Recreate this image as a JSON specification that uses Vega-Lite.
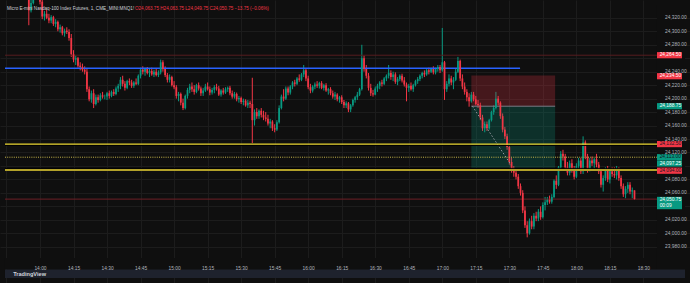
{
"$schema":"https://vega.github.io/schema/vega-lite/v6.json",
"width":690,"height":283,
"autosize":{"type":"none"},
"padding":0,
"background":"#0f0f0f",
"config":{"view":{"stroke":null,"fill":"#0f0f0f"},"font":"Liberation Sans"},
"resolve":{"axis":{"x":"independent","y":"independent"}},
"data":{"format":{"parse":{"t":"utc:'%H:%M'"}},"values":[
{"t":"13:55","o":24350,"h":24356,"l":24309,"c":24331},
{"t":"13:56","o":24331,"h":24352,"l":24328,"c":24342},
{"t":"13:57","o":24342,"h":24356,"l":24340,"c":24352},
{"t":"13:58","o":24352,"h":24362,"l":24348,"c":24358},
{"t":"13:59","o":24358,"h":24364,"l":24350,"c":24354},
{"t":"14:00","o":24354,"h":24358,"l":24340,"c":24344},
{"t":"14:01","o":24344,"h":24348,"l":24318,"c":24322},
{"t":"14:02","o":24322,"h":24330,"l":24316,"c":24326},
{"t":"14:03","o":24326,"h":24332,"l":24318,"c":24320},
{"t":"14:04","o":24320,"h":24326,"l":24312,"c":24316},
{"t":"14:05","o":24316,"h":24324,"l":24312,"c":24321},
{"t":"14:06","o":24321,"h":24323,"l":24308,"c":24311},
{"t":"14:07","o":24311,"h":24318,"l":24306,"c":24314},
{"t":"14:08","o":24314,"h":24316,"l":24300,"c":24303},
{"t":"14:09","o":24303,"h":24310,"l":24298,"c":24306},
{"t":"14:10","o":24306,"h":24308,"l":24294,"c":24297},
{"t":"14:11","o":24297,"h":24304,"l":24292,"c":24301},
{"t":"14:12","o":24301,"h":24306,"l":24296,"c":24299},
{"t":"14:13","o":24299,"h":24303,"l":24286,"c":24290},
{"t":"14:14","o":24290,"h":24296,"l":24262,"c":24266},
{"t":"14:15","o":24266,"h":24272,"l":24254,"c":24258},
{"t":"14:16","o":24258,"h":24264,"l":24250,"c":24260},
{"t":"14:17","o":24260,"h":24262,"l":24246,"c":24249},
{"t":"14:18","o":24249,"h":24254,"l":24242,"c":24247},
{"t":"14:19","o":24247,"h":24252,"l":24240,"c":24243},
{"t":"14:20","o":24243,"h":24248,"l":24236,"c":24240},
{"t":"14:21","o":24240,"h":24244,"l":24210,"c":24214},
{"t":"14:22","o":24214,"h":24218,"l":24196,"c":24199},
{"t":"14:23","o":24199,"h":24212,"l":24194,"c":24208},
{"t":"14:24","o":24208,"h":24214,"l":24186,"c":24192},
{"t":"14:25","o":24192,"h":24206,"l":24190,"c":24202},
{"t":"14:26","o":24202,"h":24206,"l":24194,"c":24198},
{"t":"14:27","o":24198,"h":24208,"l":24196,"c":24205},
{"t":"14:28","o":24205,"h":24210,"l":24200,"c":24203},
{"t":"14:29","o":24203,"h":24206,"l":24199,"c":24203},
{"t":"14:30","o":24203,"h":24210,"l":24198,"c":24208},
{"t":"14:31","o":24208,"h":24212,"l":24200,"c":24204},
{"t":"14:32","o":24204,"h":24212,"l":24202,"c":24210},
{"t":"14:33","o":24210,"h":24214,"l":24204,"c":24207},
{"t":"14:34","o":24207,"h":24218,"l":24205,"c":24215},
{"t":"14:35","o":24215,"h":24222,"l":24210,"c":24219},
{"t":"14:36","o":24219,"h":24232,"l":24214,"c":24228},
{"t":"14:37","o":24228,"h":24234,"l":24218,"c":24222},
{"t":"14:38","o":24222,"h":24226,"l":24212,"c":24216},
{"t":"14:39","o":24216,"h":24228,"l":24214,"c":24226},
{"t":"14:40","o":24226,"h":24230,"l":24220,"c":24224},
{"t":"14:41","o":24224,"h":24228,"l":24216,"c":24219},
{"t":"14:42","o":24219,"h":24226,"l":24216,"c":24224},
{"t":"14:43","o":24224,"h":24230,"l":24220,"c":24222},
{"t":"14:44","o":24222,"h":24236,"l":24220,"c":24234},
{"t":"14:45","o":24234,"h":24246,"l":24230,"c":24243},
{"t":"14:46","o":24243,"h":24248,"l":24236,"c":24240},
{"t":"14:47","o":24240,"h":24246,"l":24234,"c":24244},
{"t":"14:48","o":24244,"h":24247,"l":24236,"c":24238},
{"t":"14:49","o":24238,"h":24244,"l":24232,"c":24241},
{"t":"14:50","o":24241,"h":24246,"l":24234,"c":24236},
{"t":"14:51","o":24236,"h":24243,"l":24232,"c":24240},
{"t":"14:52","o":24240,"h":24244,"l":24233,"c":24235},
{"t":"14:53","o":24235,"h":24242,"l":24232,"c":24239},
{"t":"14:54","o":24239,"h":24258,"l":24236,"c":24254},
{"t":"14:55","o":24254,"h":24257,"l":24240,"c":24244},
{"t":"14:56","o":24244,"h":24248,"l":24232,"c":24235},
{"t":"14:57","o":24235,"h":24238,"l":24224,"c":24228},
{"t":"14:58","o":24228,"h":24236,"l":24224,"c":24232},
{"t":"14:59","o":24232,"h":24234,"l":24218,"c":24220},
{"t":"15:00","o":24220,"h":24226,"l":24214,"c":24217},
{"t":"15:01","o":24217,"h":24220,"l":24200,"c":24204},
{"t":"15:02","o":24204,"h":24210,"l":24196,"c":24207},
{"t":"15:03","o":24207,"h":24209,"l":24190,"c":24194},
{"t":"15:04","o":24194,"h":24200,"l":24183,"c":24186},
{"t":"15:05","o":24186,"h":24206,"l":24184,"c":24204},
{"t":"15:06","o":24204,"h":24216,"l":24200,"c":24213},
{"t":"15:07","o":24213,"h":24222,"l":24208,"c":24218},
{"t":"15:08","o":24218,"h":24224,"l":24210,"c":24214},
{"t":"15:09","o":24214,"h":24220,"l":24206,"c":24210},
{"t":"15:10","o":24210,"h":24222,"l":24208,"c":24220},
{"t":"15:11","o":24220,"h":24224,"l":24212,"c":24215},
{"t":"15:12","o":24215,"h":24218,"l":24204,"c":24208},
{"t":"15:13","o":24208,"h":24216,"l":24204,"c":24212},
{"t":"15:14","o":24212,"h":24222,"l":24210,"c":24218},
{"t":"15:15","o":24218,"h":24224,"l":24212,"c":24214},
{"t":"15:16","o":24214,"h":24218,"l":24205,"c":24209},
{"t":"15:17","o":24209,"h":24216,"l":24206,"c":24213},
{"t":"15:18","o":24213,"h":24220,"l":24208,"c":24217},
{"t":"15:19","o":24217,"h":24222,"l":24212,"c":24215},
{"t":"15:20","o":24215,"h":24219,"l":24204,"c":24206},
{"t":"15:21","o":24206,"h":24214,"l":24203,"c":24212},
{"t":"15:22","o":24212,"h":24216,"l":24206,"c":24209},
{"t":"15:23","o":24209,"h":24217,"l":24207,"c":24214},
{"t":"15:24","o":24214,"h":24218,"l":24210,"c":24216},
{"t":"15:25","o":24216,"h":24219,"l":24205,"c":24208},
{"t":"15:26","o":24208,"h":24212,"l":24200,"c":24203},
{"t":"15:27","o":24203,"h":24210,"l":24200,"c":24207},
{"t":"15:28","o":24207,"h":24209,"l":24196,"c":24199},
{"t":"15:29","o":24199,"h":24204,"l":24194,"c":24201},
{"t":"15:30","o":24201,"h":24203,"l":24192,"c":24195},
{"t":"15:31","o":24195,"h":24200,"l":24190,"c":24197},
{"t":"15:32","o":24197,"h":24199,"l":24188,"c":24190},
{"t":"15:33","o":24190,"h":24198,"l":24186,"c":24194},
{"t":"15:34","o":24194,"h":24197,"l":24186,"c":24192},
{"t":"15:35","o":24192,"h":24231,"l":24134,"c":24168},
{"t":"15:36","o":24168,"h":24184,"l":24160,"c":24180},
{"t":"15:37","o":24180,"h":24186,"l":24170,"c":24174},
{"t":"15:38","o":24174,"h":24184,"l":24170,"c":24182},
{"t":"15:39","o":24182,"h":24186,"l":24172,"c":24176},
{"t":"15:40","o":24176,"h":24182,"l":24168,"c":24172},
{"t":"15:41","o":24172,"h":24180,"l":24166,"c":24170},
{"t":"15:42","o":24170,"h":24176,"l":24160,"c":24163},
{"t":"15:43","o":24163,"h":24170,"l":24156,"c":24166},
{"t":"15:44","o":24166,"h":24168,"l":24152,"c":24156},
{"t":"15:45","o":24156,"h":24162,"l":24150,"c":24154},
{"t":"15:46","o":24154,"h":24168,"l":24152,"c":24165},
{"t":"15:47","o":24165,"h":24190,"l":24163,"c":24186},
{"t":"15:48","o":24186,"h":24206,"l":24184,"c":24203},
{"t":"15:49","o":24203,"h":24214,"l":24196,"c":24200},
{"t":"15:50","o":24200,"h":24218,"l":24198,"c":24215},
{"t":"15:51","o":24215,"h":24218,"l":24205,"c":24209},
{"t":"15:52","o":24209,"h":24220,"l":24206,"c":24218},
{"t":"15:53","o":24218,"h":24226,"l":24214,"c":24224},
{"t":"15:54","o":24224,"h":24228,"l":24218,"c":24222},
{"t":"15:55","o":24222,"h":24232,"l":24220,"c":24230},
{"t":"15:56","o":24230,"h":24236,"l":24225,"c":24228},
{"t":"15:57","o":24228,"h":24238,"l":24226,"c":24236},
{"t":"15:58","o":24236,"h":24250,"l":24232,"c":24242},
{"t":"15:59","o":24242,"h":24244,"l":24226,"c":24230},
{"t":"16:00","o":24230,"h":24234,"l":24214,"c":24217},
{"t":"16:01","o":24217,"h":24222,"l":24208,"c":24212},
{"t":"16:02","o":24212,"h":24220,"l":24209,"c":24218},
{"t":"16:03","o":24218,"h":24224,"l":24214,"c":24221},
{"t":"16:04","o":24221,"h":24226,"l":24216,"c":24219},
{"t":"16:05","o":24219,"h":24225,"l":24215,"c":24223},
{"t":"16:06","o":24223,"h":24226,"l":24214,"c":24216},
{"t":"16:07","o":24216,"h":24222,"l":24212,"c":24220},
{"t":"16:08","o":24220,"h":24223,"l":24210,"c":24212},
{"t":"16:09","o":24212,"h":24216,"l":24206,"c":24214},
{"t":"16:10","o":24214,"h":24217,"l":24205,"c":24208},
{"t":"16:11","o":24208,"h":24212,"l":24200,"c":24203},
{"t":"16:12","o":24203,"h":24210,"l":24198,"c":24206},
{"t":"16:13","o":24206,"h":24208,"l":24196,"c":24199},
{"t":"16:14","o":24199,"h":24204,"l":24194,"c":24202},
{"t":"16:15","o":24202,"h":24205,"l":24192,"c":24195},
{"t":"16:16","o":24195,"h":24198,"l":24186,"c":24190},
{"t":"16:17","o":24190,"h":24196,"l":24186,"c":24193},
{"t":"16:18","o":24193,"h":24195,"l":24180,"c":24184},
{"t":"16:19","o":24184,"h":24192,"l":24180,"c":24190},
{"t":"16:20","o":24190,"h":24200,"l":24188,"c":24198},
{"t":"16:21","o":24198,"h":24204,"l":24194,"c":24202},
{"t":"16:22","o":24202,"h":24210,"l":24198,"c":24206},
{"t":"16:23","o":24206,"h":24216,"l":24204,"c":24214},
{"t":"16:24","o":24214,"h":24280,"l":24212,"c":24260},
{"t":"16:25","o":24260,"h":24264,"l":24240,"c":24244},
{"t":"16:26","o":24244,"h":24250,"l":24230,"c":24234},
{"t":"16:27","o":24234,"h":24238,"l":24212,"c":24216},
{"t":"16:28","o":24216,"h":24222,"l":24204,"c":24208},
{"t":"16:29","o":24208,"h":24213,"l":24203,"c":24206},
{"t":"16:30","o":24206,"h":24218,"l":24205,"c":24215},
{"t":"16:31","o":24215,"h":24222,"l":24210,"c":24219},
{"t":"16:32","o":24219,"h":24226,"l":24214,"c":24224},
{"t":"16:33","o":24224,"h":24228,"l":24218,"c":24222},
{"t":"16:34","o":24222,"h":24232,"l":24220,"c":24230},
{"t":"16:35","o":24230,"h":24236,"l":24226,"c":24234},
{"t":"16:36","o":24234,"h":24250,"l":24230,"c":24238},
{"t":"16:37","o":24238,"h":24242,"l":24228,"c":24232},
{"t":"16:38","o":24232,"h":24240,"l":24226,"c":24236},
{"t":"16:39","o":24236,"h":24239,"l":24222,"c":24225},
{"t":"16:40","o":24225,"h":24232,"l":24220,"c":24229},
{"t":"16:41","o":24229,"h":24236,"l":24226,"c":24234},
{"t":"16:42","o":24234,"h":24237,"l":24224,"c":24227},
{"t":"16:43","o":24227,"h":24232,"l":24218,"c":24221},
{"t":"16:44","o":24221,"h":24224,"l":24196,"c":24216},
{"t":"16:45","o":24216,"h":24222,"l":24210,"c":24219},
{"t":"16:46","o":24219,"h":24224,"l":24212,"c":24214},
{"t":"16:47","o":24214,"h":24222,"l":24210,"c":24220},
{"t":"16:48","o":24220,"h":24228,"l":24218,"c":24226},
{"t":"16:49","o":24226,"h":24232,"l":24222,"c":24229},
{"t":"16:50","o":24229,"h":24236,"l":24226,"c":24234},
{"t":"16:51","o":24234,"h":24240,"l":24230,"c":24238},
{"t":"16:52","o":24238,"h":24242,"l":24232,"c":24236},
{"t":"16:53","o":24236,"h":24244,"l":24234,"c":24242},
{"t":"16:54","o":24242,"h":24246,"l":24236,"c":24240},
{"t":"16:55","o":24240,"h":24246,"l":24238,"c":24244},
{"t":"16:56","o":24244,"h":24248,"l":24236,"c":24239},
{"t":"16:57","o":24239,"h":24246,"l":24236,"c":24244},
{"t":"16:58","o":24244,"h":24250,"l":24240,"c":24247},
{"t":"16:59","o":24247,"h":24250,"l":24238,"c":24242},
{"t":"17:00","o":24242,"h":24305,"l":24240,"c":24254},
{"t":"17:01","o":24254,"h":24256,"l":24198,"c":24214},
{"t":"17:02","o":24214,"h":24226,"l":24210,"c":24222},
{"t":"17:03","o":24222,"h":24236,"l":24218,"c":24230},
{"t":"17:04","o":24230,"h":24234,"l":24220,"c":24224},
{"t":"17:05","o":24224,"h":24232,"l":24214,"c":24228},
{"t":"17:06","o":24228,"h":24244,"l":24226,"c":24240},
{"t":"17:07","o":24240,"h":24262,"l":24238,"c":24256},
{"t":"17:08","o":24256,"h":24258,"l":24226,"c":24230},
{"t":"17:09","o":24230,"h":24236,"l":24214,"c":24218},
{"t":"17:10","o":24218,"h":24224,"l":24206,"c":24210},
{"t":"17:11","o":24210,"h":24214,"l":24196,"c":24202},
{"t":"17:12","o":24202,"h":24208,"l":24188,"c":24196},
{"t":"17:13","o":24196,"h":24210,"l":24194,"c":24206},
{"t":"17:14","o":24206,"h":24210,"l":24196,"c":24199},
{"t":"17:15","o":24199,"h":24204,"l":24190,"c":24192},
{"t":"17:16","o":24192,"h":24198,"l":24186,"c":24190},
{"t":"17:17","o":24190,"h":24194,"l":24168,"c":24172},
{"t":"17:18","o":24172,"h":24176,"l":24152,"c":24156},
{"t":"17:19","o":24156,"h":24166,"l":24150,"c":24162},
{"t":"17:20","o":24162,"h":24166,"l":24152,"c":24156},
{"t":"17:21","o":24156,"h":24170,"l":24154,"c":24168},
{"t":"17:22","o":24168,"h":24182,"l":24166,"c":24180},
{"t":"17:23","o":24180,"h":24190,"l":24176,"c":24186},
{"t":"17:24","o":24186,"h":24210,"l":24184,"c":24200},
{"t":"17:25","o":24200,"h":24204,"l":24190,"c":24194},
{"t":"17:26","o":24194,"h":24196,"l":24170,"c":24174},
{"t":"17:27","o":24174,"h":24178,"l":24150,"c":24154},
{"t":"17:28","o":24154,"h":24158,"l":24140,"c":24144},
{"t":"17:29","o":24144,"h":24148,"l":24124,"c":24128},
{"t":"17:30","o":24128,"h":24132,"l":24102,"c":24106},
{"t":"17:31","o":24106,"h":24112,"l":24090,"c":24094},
{"t":"17:32","o":24094,"h":24100,"l":24084,"c":24090},
{"t":"17:33","o":24090,"h":24094,"l":24080,"c":24084},
{"t":"17:34","o":24084,"h":24088,"l":24066,"c":24070},
{"t":"17:35","o":24070,"h":24074,"l":24056,"c":24060},
{"t":"17:36","o":24060,"h":24064,"l":24030,"c":24034},
{"t":"17:37","o":24034,"h":24040,"l":24008,"c":24012},
{"t":"17:38","o":24012,"h":24018,"l":23994,"c":24000},
{"t":"17:39","o":24000,"h":24022,"l":23998,"c":24018},
{"t":"17:40","o":24018,"h":24026,"l":24006,"c":24010},
{"t":"17:41","o":24010,"h":24030,"l":24006,"c":24026},
{"t":"17:42","o":24026,"h":24032,"l":24018,"c":24022},
{"t":"17:43","o":24022,"h":24036,"l":24018,"c":24032},
{"t":"17:44","o":24032,"h":24040,"l":24020,"c":24024},
{"t":"17:45","o":24024,"h":24046,"l":24022,"c":24042},
{"t":"17:46","o":24042,"h":24054,"l":24034,"c":24046},
{"t":"17:47","o":24046,"h":24054,"l":24042,"c":24050},
{"t":"17:48","o":24050,"h":24056,"l":24044,"c":24047},
{"t":"17:49","o":24047,"h":24058,"l":24044,"c":24054},
{"t":"17:50","o":24054,"h":24080,"l":24052,"c":24078},
{"t":"17:51","o":24078,"h":24086,"l":24066,"c":24072},
{"t":"17:52","o":24072,"h":24100,"l":24070,"c":24098},
{"t":"17:53","o":24098,"h":24122,"l":24096,"c":24118},
{"t":"17:54","o":24118,"h":24124,"l":24108,"c":24114},
{"t":"17:55","o":24114,"h":24118,"l":24094,"c":24098},
{"t":"17:56","o":24098,"h":24106,"l":24086,"c":24090},
{"t":"17:57","o":24090,"h":24108,"l":24086,"c":24104},
{"t":"17:58","o":24104,"h":24110,"l":24090,"c":24094},
{"t":"17:59","o":24094,"h":24100,"l":24080,"c":24084},
{"t":"18:00","o":24084,"h":24104,"l":24082,"c":24100},
{"t":"18:01","o":24100,"h":24112,"l":24096,"c":24108},
{"t":"18:02","o":24108,"h":24112,"l":24088,"c":24092},
{"t":"18:03","o":24092,"h":24144,"l":24088,"c":24135},
{"t":"18:04","o":24135,"h":24138,"l":24110,"c":24114},
{"t":"18:05","o":24114,"h":24118,"l":24090,"c":24096},
{"t":"18:06","o":24096,"h":24112,"l":24092,"c":24108},
{"t":"18:07","o":24108,"h":24114,"l":24100,"c":24104},
{"t":"18:08","o":24104,"h":24112,"l":24096,"c":24110},
{"t":"18:09","o":24110,"h":24118,"l":24098,"c":24102},
{"t":"18:10","o":24102,"h":24106,"l":24088,"c":24092},
{"t":"18:11","o":24092,"h":24096,"l":24068,"c":24072},
{"t":"18:12","o":24072,"h":24086,"l":24062,"c":24082},
{"t":"18:13","o":24082,"h":24098,"l":24078,"c":24094},
{"t":"18:14","o":24094,"h":24100,"l":24076,"c":24080},
{"t":"18:15","o":24080,"h":24096,"l":24074,"c":24092},
{"t":"18:16","o":24092,"h":24098,"l":24084,"c":24088},
{"t":"18:17","o":24088,"h":24098,"l":24082,"c":24086},
{"t":"18:18","o":24086,"h":24100,"l":24080,"c":24096},
{"t":"18:19","o":24096,"h":24098,"l":24078,"c":24082},
{"t":"18:20","o":24082,"h":24086,"l":24066,"c":24070},
{"t":"18:21","o":24070,"h":24074,"l":24054,"c":24058},
{"t":"18:22","o":24058,"h":24070,"l":24052,"c":24066},
{"t":"18:23","o":24066,"h":24076,"l":24060,"c":24072},
{"t":"18:24","o":24072,"h":24076,"l":24058,"c":24062},
{"t":"18:25","o":24062,"h":24068,"l":24052,"c":24064},
{"t":"18:26","o":24063.75,"h":24063.75,"l":24049.75,"c":24050.75}
]},
"layer":[
{"mark":{"type":"rule","clip":true,"strokeWidth":1},
 "encoding":{
  "x":{"field":"t","type":"temporal","scale":{"type":"utc","domain":[{"year":1900,"month":1,"date":1,"hours":13,"minutes":44,"seconds":20,"milliseconds":700,"utc":true},{"year":1900,"month":1,"date":1,"hours":18,"minutes":48,"seconds":36,"utc":true}],"nice":false},
   "axis":{"title":null,"orient":"bottom","labels":false,"ticks":false,"domain":false,"grid":true,"gridColor":"#1c1c1c","minExtent":0,"maxExtent":0,
    "values":[{"year":1900,"month":1,"date":1,"hours":13,"minutes":45,"utc":true},{"year":1900,"month":1,"date":1,"hours":14,"minutes":0,"utc":true},{"year":1900,"month":1,"date":1,"hours":14,"minutes":15,"utc":true},{"year":1900,"month":1,"date":1,"hours":14,"minutes":30,"utc":true},{"year":1900,"month":1,"date":1,"hours":14,"minutes":45,"utc":true},{"year":1900,"month":1,"date":1,"hours":15,"minutes":0,"utc":true},{"year":1900,"month":1,"date":1,"hours":15,"minutes":15,"utc":true},{"year":1900,"month":1,"date":1,"hours":15,"minutes":30,"utc":true},{"year":1900,"month":1,"date":1,"hours":15,"minutes":45,"utc":true},{"year":1900,"month":1,"date":1,"hours":16,"minutes":0,"utc":true},{"year":1900,"month":1,"date":1,"hours":16,"minutes":15,"utc":true},{"year":1900,"month":1,"date":1,"hours":16,"minutes":30,"utc":true},{"year":1900,"month":1,"date":1,"hours":16,"minutes":45,"utc":true},{"year":1900,"month":1,"date":1,"hours":17,"minutes":0,"utc":true},{"year":1900,"month":1,"date":1,"hours":17,"minutes":15,"utc":true},{"year":1900,"month":1,"date":1,"hours":17,"minutes":30,"utc":true},{"year":1900,"month":1,"date":1,"hours":17,"minutes":45,"utc":true},{"year":1900,"month":1,"date":1,"hours":18,"minutes":0,"utc":true},{"year":1900,"month":1,"date":1,"hours":18,"minutes":15,"utc":true},{"year":1900,"month":1,"date":1,"hours":18,"minutes":30,"utc":true}]}},
  "y":{"field":"l","type":"quantitative","scale":{"domain":[23933.6,24339.07],"nice":false,"zero":false},
   "axis":{"title":null,"orient":"right","labels":false,"ticks":false,"domain":false,"grid":true,"gridColor":"#1c1c1c","minExtent":0,"maxExtent":0,
    "values":[23980,24000,24020,24040,24060,24080,24100,24120,24140,24160,24180,24200,24220,24240,24260,24280,24300,24320]}},
  "y2":{"field":"h"},
  "color":{"condition":{"test":"datum.c >= datum.o","value":"#089981"},"value":"#f23645"}}},
{"data":{"values":[{"from":"17:13","to":"17:50:30","top":24234.5,"bottom":24188.75,"k":"stop"},{"from":"17:13","to":"17:50:30","top":24188.75,"bottom":24097.25,"k":"target"}],"format":{"parse":{"from":"utc:'%H:%M'","to":"utc:'%H:%M:%S'"}}},
 "mark":{"type":"rect","opacity":0.24},
 "encoding":{
  "x":{"field":"from","type":"temporal","axis":null},
  "x2":{"field":"to"},
  "y":{"field":"top","type":"quantitative","axis":null},
  "y2":{"field":"bottom"},
  "color":{"field":"k","type":"nominal","scale":{"domain":["stop","target"],"range":["#f23645","#089981"]},"legend":null}}},
{"data":{"values":[{"a":"entry"}]},
 "mark":{"type":"rule","color":"#787b86","strokeWidth":1},
 "encoding":{
  "x":{"datum":{"year":1900,"month":1,"date":1,"hours":17,"minutes":13,"utc":true},"type":"temporal","axis":null},
  "x2":{"datum":{"year":1900,"month":1,"date":1,"hours":17,"minutes":50,"seconds":30,"utc":true}},
  "y":{"datum":24188.75,"type":"quantitative","axis":null}}},
{"data":{"values":[{"a":"path"}]},
 "mark":{"type":"rule","color":"#9598a1","strokeWidth":1,"strokeDash":[1.5,2]},
 "encoding":{
  "x":{"datum":{"year":1900,"month":1,"date":1,"hours":17,"minutes":13,"seconds":30,"utc":true},"type":"temporal","axis":null},
  "x2":{"datum":{"year":1900,"month":1,"date":1,"hours":17,"minutes":31,"seconds":36,"utc":true}},
  "y":{"datum":24188.75,"type":"quantitative","axis":null},
  "y2":{"datum":24097.25}}},
{"data":{"values":[{"p":24264.5,"k":"alert"},{"p":24050.75,"k":"last"}]},
 "mark":{"type":"rule","strokeWidth":1},
 "encoding":{
  "x":{"datum":{"year":1900,"month":1,"date":1,"hours":13,"minutes":44,"seconds":20,"milliseconds":700,"utc":true},"type":"temporal","axis":null},
  "x2":{"datum":{"year":1900,"month":1,"date":1,"hours":18,"minutes":36,"seconds":4,"utc":true}},
  "y":{"field":"p","type":"quantitative","axis":null},
  "color":{"condition":{"test":"datum.k == 'alert'","value":"#561b1f"},"value":"#6e2027"}}},
{"data":{"values":[{"a":"blue"}]},
 "mark":{"type":"rule","color":"#2962ff","strokeWidth":1.5},
 "encoding":{
  "x":{"datum":{"year":1900,"month":1,"date":1,"hours":13,"minutes":44,"seconds":20,"milliseconds":700,"utc":true},"type":"temporal","axis":null},
  "x2":{"datum":{"year":1900,"month":1,"date":1,"hours":17,"minutes":34,"seconds":48,"utc":true}},
  "y":{"datum":24245,"type":"quantitative","axis":null}}},
{"mark":{"type":"bar","clip":true,"width":1.75},
 "encoding":{
  "x":{"field":"t","type":"temporal",
   "axis":{"title":null,"orient":"bottom","offset":-20.7,"grid":false,"ticks":false,"domain":false,"format":"%H:%M","labelColor":"#b2b5be","labelFontSize":4.85,"labelPadding":3,"labelFlush":false,"labelOverlap":false,"zindex":1,
    "values":[{"year":1900,"month":1,"date":1,"hours":14,"minutes":0,"utc":true},{"year":1900,"month":1,"date":1,"hours":14,"minutes":15,"utc":true},{"year":1900,"month":1,"date":1,"hours":14,"minutes":30,"utc":true},{"year":1900,"month":1,"date":1,"hours":14,"minutes":45,"utc":true},{"year":1900,"month":1,"date":1,"hours":15,"minutes":0,"utc":true},{"year":1900,"month":1,"date":1,"hours":15,"minutes":15,"utc":true},{"year":1900,"month":1,"date":1,"hours":15,"minutes":30,"utc":true},{"year":1900,"month":1,"date":1,"hours":15,"minutes":45,"utc":true},{"year":1900,"month":1,"date":1,"hours":16,"minutes":0,"utc":true},{"year":1900,"month":1,"date":1,"hours":16,"minutes":15,"utc":true},{"year":1900,"month":1,"date":1,"hours":16,"minutes":30,"utc":true},{"year":1900,"month":1,"date":1,"hours":16,"minutes":45,"utc":true},{"year":1900,"month":1,"date":1,"hours":17,"minutes":0,"utc":true},{"year":1900,"month":1,"date":1,"hours":17,"minutes":15,"utc":true},{"year":1900,"month":1,"date":1,"hours":17,"minutes":30,"utc":true},{"year":1900,"month":1,"date":1,"hours":17,"minutes":45,"utc":true},{"year":1900,"month":1,"date":1,"hours":18,"minutes":0,"utc":true},{"year":1900,"month":1,"date":1,"hours":18,"minutes":15,"utc":true},{"year":1900,"month":1,"date":1,"hours":18,"minutes":30,"utc":true}]}},
  "y":{"field":"o","type":"quantitative",
   "axis":{"title":null,"orient":"right","offset":-28.4,"grid":false,"ticks":false,"domain":false,"format":",.2f","labelColor":"#b2b5be","labelFontSize":4.85,"labelPadding":3,"labelFlush":false,"labelOverlap":false,"zindex":1,
    "labelExpr":"indexof([24260,24100,24040], datum.value) >= 0 ? '' : datum.label",
    "values":[23980,24000,24020,24040,24060,24080,24100,24120,24140,24160,24180,24200,24220,24240,24260,24280,24300,24320]}},
  "y2":{"field":"c"},
  "color":{"condition":{"test":"datum.c >= datum.o","value":"#089981"},"value":"#f23645"}}},
{"data":{"values":[{"p":24132.5,"k":"y1"}]},
 "mark":{"type":"rule","color":"#000000","strokeWidth":1,"yOffset":1.35},
 "encoding":{
  "x":{"datum":{"year":1900,"month":1,"date":1,"hours":13,"minutes":44,"seconds":20,"milliseconds":700,"utc":true},"type":"temporal","axis":null},
  "x2":{"datum":{"year":1900,"month":1,"date":1,"hours":18,"minutes":36,"seconds":4,"utc":true}},
  "y":{"field":"p","type":"quantitative","axis":null}}},
{"data":{"values":[{"p":24094,"k":"y3"}]},
 "mark":{"type":"rule","color":"#000000","strokeWidth":1,"yOffset":-1.65},
 "encoding":{
  "x":{"datum":{"year":1900,"month":1,"date":1,"hours":13,"minutes":44,"seconds":20,"milliseconds":700,"utc":true},"type":"temporal","axis":null},
  "x2":{"datum":{"year":1900,"month":1,"date":1,"hours":18,"minutes":36,"seconds":4,"utc":true}},
  "y":{"field":"p","type":"quantitative","axis":null}}},
{"data":{"values":[{"a":"y1"}]},
 "mark":{"type":"rule","color":"#e8d430","strokeWidth":1.35},
 "encoding":{
  "x":{"datum":{"year":1900,"month":1,"date":1,"hours":13,"minutes":44,"seconds":20,"milliseconds":700,"utc":true},"type":"temporal","axis":null},
  "x2":{"datum":{"year":1900,"month":1,"date":1,"hours":18,"minutes":36,"seconds":4,"utc":true}},
  "y":{"datum":24132.5,"type":"quantitative","axis":null}}},
{"data":{"values":[{"a":"y2"}]},
 "mark":{"type":"rule","color":"#c8b64a","strokeWidth":1,"strokeDash":[1,1.2]},
 "encoding":{
  "x":{"datum":{"year":1900,"month":1,"date":1,"hours":13,"minutes":44,"seconds":20,"milliseconds":700,"utc":true},"type":"temporal","axis":null},
  "x2":{"datum":{"year":1900,"month":1,"date":1,"hours":18,"minutes":36,"seconds":4,"utc":true}},
  "y":{"datum":24113,"type":"quantitative","axis":null}}},
{"data":{"values":[{"a":"y3"}]},
 "mark":{"type":"rule","color":"#b3a22a","strokeWidth":2.05},
 "encoding":{
  "x":{"datum":{"year":1900,"month":1,"date":1,"hours":13,"minutes":44,"seconds":20,"milliseconds":700,"utc":true},"type":"temporal","axis":null},
  "x2":{"datum":{"year":1900,"month":1,"date":1,"hours":18,"minutes":36,"seconds":4,"utc":true}},
  "y":{"datum":24094,"type":"quantitative","axis":null}}},
{"data":{"values":[{"part":"scale"}]},
 "mark":{"type":"rect","color":"#0f0f0f"},
 "encoding":{
  "x":{"datum":{"year":1900,"month":1,"date":1,"hours":18,"minutes":36,"seconds":4,"utc":true},"type":"temporal","axis":null},
  "x2":{"datum":{"year":1900,"month":1,"date":1,"hours":18,"minutes":48,"seconds":36,"utc":true}},
  "y":{"datum":24339.07,"type":"quantitative","axis":null},
  "y2":{"datum":23933.6}}},
{"data":{"values":[{"part":"timebar"}]},
 "mark":{"type":"rect","color":"#0f0f0f"},
 "encoding":{
  "x":{"datum":{"year":1900,"month":1,"date":1,"hours":13,"minutes":44,"seconds":20,"milliseconds":700,"utc":true},"type":"temporal","axis":null},
  "x2":{"datum":{"year":1900,"month":1,"date":1,"hours":18,"minutes":36,"seconds":4,"utc":true}},
  "y":{"datum":23963.3,"type":"quantitative","axis":null},
  "y2":{"datum":23946.2}}},
{"data":{"values":[{"part":"footer"}]},
 "mark":{"type":"rect","color":"#1e222d"},
 "encoding":{
  "x":{"datum":{"year":1900,"month":1,"date":1,"hours":13,"minutes":44,"seconds":20,"milliseconds":700,"utc":true},"type":"temporal","axis":null},
  "x2":{"datum":{"year":1900,"month":1,"date":1,"hours":18,"minutes":48,"seconds":36,"utc":true}},
  "y":{"datum":23946.2,"type":"quantitative","axis":null},
  "y2":{"datum":23933.6}}},
{"data":{"values":[{"p":24264.5,"k":"alert"},{"p":24234.5,"k":"stop"},{"p":24188.75,"k":"entry"},{"p":24132.5,"k":"y1"},{"p":24113,"k":"y2"},{"p":24097.25,"k":"target"},{"p":24094,"k":"y3"},{"p":24050.75,"k":"last"}]},
 "layer":[
  {"transform":[{"filter":"datum.k != 'target' && datum.k != 'last' && datum.k != 'y3' && datum.k != 'stop'"}],
   "mark":{"type":"bar","size":6.2},
   "encoding":{
    "x":{"datum":{"year":1900,"month":1,"date":1,"hours":18,"minutes":36,"seconds":4,"utc":true},"type":"temporal","axis":null},
    "x2":{"datum":{"year":1900,"month":1,"date":1,"hours":18,"minutes":47,"seconds":15,"utc":true}},
    "y":{"field":"p","type":"quantitative","axis":null},
    "color":{"field":"k","type":"nominal","scale":{"domain":["alert","stop","entry","y1","y2","target","y3","last"],"range":["#7f1b23","#f23645","#8c8f99","#ffeb3b","#ffeb3b","#089981","#ffeb3b","#f23645"]},"legend":null}}},
  {"transform":[{"filter":"datum.k == 'stop'"}],
   "mark":{"type":"bar","size":6.2,"yOffset":0.8},
   "encoding":{
    "x":{"datum":{"year":1900,"month":1,"date":1,"hours":18,"minutes":36,"seconds":4,"utc":true},"type":"temporal","axis":null},
    "x2":{"datum":{"year":1900,"month":1,"date":1,"hours":18,"minutes":47,"seconds":15,"utc":true}},
    "y":{"field":"p","type":"quantitative","axis":null},
    "color":{"field":"k","type":"nominal","legend":null}}},
  {"transform":[{"filter":"datum.k == 'target'"}],
   "mark":{"type":"bar","size":6.2,"yOffset":-4.3},
   "encoding":{
    "x":{"datum":{"year":1900,"month":1,"date":1,"hours":18,"minutes":36,"seconds":4,"utc":true},"type":"temporal","axis":null},
    "x2":{"datum":{"year":1900,"month":1,"date":1,"hours":18,"minutes":47,"seconds":15,"utc":true}},
    "y":{"field":"p","type":"quantitative","axis":null},
    "color":{"field":"k","type":"nominal","legend":null}}},
  {"transform":[{"filter":"datum.k == 'y3'"}],
   "mark":{"type":"bar","size":6.2,"yOffset":0.7},
   "encoding":{
    "x":{"datum":{"year":1900,"month":1,"date":1,"hours":18,"minutes":36,"seconds":4,"utc":true},"type":"temporal","axis":null},
    "x2":{"datum":{"year":1900,"month":1,"date":1,"hours":18,"minutes":47,"seconds":15,"utc":true}},
    "y":{"field":"p","type":"quantitative","axis":null},
    "color":{"field":"k","type":"nominal","legend":null}}},
  {"transform":[{"filter":"datum.k == 'last'"}],
   "mark":{"type":"bar","size":12.4,"yOffset":3.9},
   "encoding":{
    "x":{"datum":{"year":1900,"month":1,"date":1,"hours":18,"minutes":36,"seconds":4,"utc":true},"type":"temporal","axis":null},
    "x2":{"datum":{"year":1900,"month":1,"date":1,"hours":18,"minutes":47,"seconds":15,"utc":true}},
    "y":{"field":"p","type":"quantitative","axis":null},
    "color":{"field":"k","type":"nominal","legend":null}}},
  {"transform":[{"filter":"datum.k == 'alert' || datum.k == 'entry'"}],
   "mark":{"type":"text","align":"left","baseline":"middle","fontSize":4.85,"color":"#ffffff"},
   "encoding":{
    "x":{"datum":{"year":1900,"month":1,"date":1,"hours":18,"minutes":37,"seconds":15,"utc":true},"type":"temporal","axis":null},
    "y":{"field":"p","type":"quantitative","axis":null},
    "text":{"field":"p","format":",.2f"}}},
  {"transform":[{"filter":"datum.k == 'stop'"}],
   "mark":{"type":"text","align":"left","baseline":"middle","fontSize":4.85,"color":"#ffffff","yOffset":0.8},
   "encoding":{
    "x":{"datum":{"year":1900,"month":1,"date":1,"hours":18,"minutes":37,"seconds":15,"utc":true},"type":"temporal","axis":null},
    "y":{"field":"p","type":"quantitative","axis":null},
    "text":{"field":"p","format":",.2f"}}},
  {"transform":[{"filter":"datum.k == 'y1' || datum.k == 'y2'"}],
   "mark":{"type":"text","align":"left","baseline":"middle","fontSize":4.85,"color":"#131722"},
   "encoding":{
    "x":{"datum":{"year":1900,"month":1,"date":1,"hours":18,"minutes":37,"seconds":15,"utc":true},"type":"temporal","axis":null},
    "y":{"field":"p","type":"quantitative","axis":null},
    "text":{"field":"p","format":",.2f"}}},
  {"transform":[{"filter":"datum.k == 'y3'"}],
   "mark":{"type":"text","align":"left","baseline":"middle","fontSize":4.85,"color":"#131722","yOffset":0.7},
   "encoding":{
    "x":{"datum":{"year":1900,"month":1,"date":1,"hours":18,"minutes":37,"seconds":15,"utc":true},"type":"temporal","axis":null},
    "y":{"field":"p","type":"quantitative","axis":null},
    "text":{"field":"p","format":",.2f"}}},
  {"transform":[{"filter":"datum.k == 'target'"}],
   "mark":{"type":"text","align":"left","baseline":"middle","fontSize":4.85,"color":"#ffffff","yOffset":-4.3},
   "encoding":{
    "x":{"datum":{"year":1900,"month":1,"date":1,"hours":18,"minutes":37,"seconds":15,"utc":true},"type":"temporal","axis":null},
    "y":{"field":"p","type":"quantitative","axis":null},
    "text":{"field":"p","format":",.2f"}}},
  {"transform":[{"filter":"datum.k == 'last'"}],
   "mark":{"type":"text","align":"left","baseline":"middle","fontSize":4.85,"color":"#ffffff","yOffset":1},
   "encoding":{
    "x":{"datum":{"year":1900,"month":1,"date":1,"hours":18,"minutes":37,"seconds":15,"utc":true},"type":"temporal","axis":null},
    "y":{"field":"p","type":"quantitative","axis":null},
    "text":{"field":"p","format":",.2f"}}},
  {"transform":[{"filter":"datum.k == 'last'"}],
   "mark":{"type":"text","align":"left","baseline":"middle","fontSize":4.85,"color":"#ffffff","yOffset":7.2},
   "encoding":{
    "x":{"datum":{"year":1900,"month":1,"date":1,"hours":18,"minutes":37,"seconds":15,"utc":true},"type":"temporal","axis":null},
    "y":{"field":"p","type":"quantitative","axis":null},
    "text":{"value":"00:09"}}}
 ]},
{"data":{"values":[{"s":"Micro E-mini Nasdaq-100 Index Futures, 1, CME_MINI:MNQ1!"}]},
 "mark":{"type":"text","align":"left","baseline":"middle","fontSize":4.6,"color":"#d1d4dc"},
 "encoding":{
  "x":{"datum":{"year":1900,"month":1,"date":1,"hours":13,"minutes":45,"seconds":15,"utc":true},"type":"temporal","axis":null},
  "y":{"datum":24333,"type":"quantitative","axis":null},
  "text":{"field":"s"}}},
{"data":{"values":[{"s":"O24,063.75  H24,063.75  L24,049.75  C24,050.75  −13.75 (−0.06%)"}]},
 "mark":{"type":"text","align":"left","baseline":"middle","fontSize":4.6,"color":"#f23645"},
 "encoding":{
  "x":{"datum":{"year":1900,"month":1,"date":1,"hours":14,"minutes":42,"seconds":30,"utc":true},"type":"temporal","axis":null},
  "y":{"datum":24333,"type":"quantitative","axis":null},
  "text":{"field":"s"}}},
{"data":{"values":[{"s":"TradingView"}]},
 "mark":{"type":"text","align":"left","baseline":"middle","fontSize":5.6,"fontWeight":"bold","color":"#d1d4dc"},
 "encoding":{
  "x":{"datum":{"year":1900,"month":1,"date":1,"hours":13,"minutes":48,"seconds":0,"utc":true},"type":"temporal","axis":null},
  "y":{"datum":23939.4,"type":"quantitative","axis":null},
  "text":{"field":"s"}}}
]
}
